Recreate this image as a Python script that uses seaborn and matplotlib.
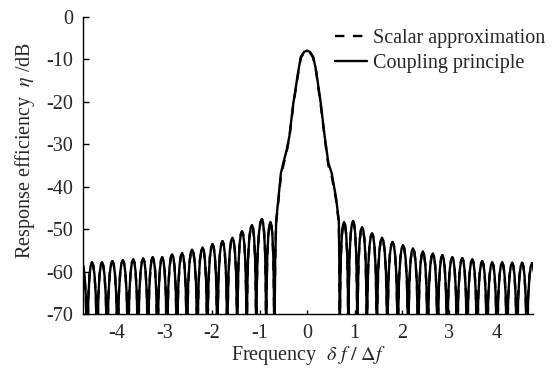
"""Resposta em frequencia: aproximacao escalar vs principio de acoplamento."""

import matplotlib
import numpy as np
import pandas as pd

matplotlib.use("Agg")
import matplotlib.pyplot as plt  # noqa: E402
import seaborn as sns  # noqa: E402

# --- valores (dB) ---
# lobulos laterais a esquerda: nulos (limites) e picos, em ordem crescente de x
LEFT_NULL_X = [-4.84, -4.63, -4.42, -4.21, -3.99, -3.77, -3.56, -3.35, -3.15, -2.95, -2.74,
               -2.53, -2.31, -2.10, -1.89, -1.68, -1.47, -1.27, -1.07, -0.86, -0.69]
LEFT_PEAK_X = [-4.74, -4.53, -4.32, -4.10, -3.88, -3.66, -3.45, -3.25, -3.05, -2.84,
               -2.63, -2.42, -2.20, -1.99, -1.78, -1.57, -1.37, -1.16, -0.95, -0.77]
LEFT_PEAK_DB = [-58.0, -57.8, -57.8, -57.5, -57.3, -57.1, -56.9, -56.6, -56.6, -55.9,
                -55.6, -54.8, -54.3, -53.5, -52.8, -52.0, -50.5, -49.0, -47.6, -48.3]

# lobulos laterais a direita
RIGHT_NULL_X = [0.69, 0.87, 1.06, 1.26, 1.47, 1.69, 1.91, 2.13, 2.34, 2.54, 2.75,
                2.95, 3.16, 3.37, 3.58, 3.79, 4.00, 4.21, 4.42, 4.63, 4.84]
RIGHT_PEAK_X = [0.78, 0.97, 1.16, 1.37, 1.58, 1.80, 2.02, 2.23, 2.44, 2.65,
                2.85, 3.06, 3.27, 3.48, 3.69, 3.90, 4.11, 4.32, 4.53, 4.74]
RIGHT_PEAK_DB = [-48.3, -48.1, -49.5, -51.0, -52.0, -53.0, -53.8, -54.5, -55.2, -55.7,
                 -56.1, -56.6, -56.8, -57.1, -57.5, -57.8, -57.8, -57.9, -57.9, -58.0]

# lobulo principal
MAIN_X = [-0.67, -0.65, -0.60, -0.55, -0.50, -0.43, -0.37, -0.29, -0.18, -0.13, -0.06,
          0.00, 0.06, 0.13, 0.19, 0.29, 0.37, 0.45, 0.52, 0.61, 0.67, 0.68]
COUPLING_MAIN_DB = [-57.0, -48.0, -42.5, -36.8, -34.4, -31.4, -28.0, -20.4, -12.5, -9.4, -8.2,
                    -7.9, -8.2, -9.4, -12.5, -20.4, -28.0, -34.4, -36.8, -42.5, -48.0, -57.0]
SCALAR_MAIN_DB = [-57.0, -48.5, -43.0, -37.5, -35.0, -31.8, -28.3, -20.8, -12.8, -9.6, -8.3,
                  -8.0, -8.3, -9.6, -12.8, -20.8, -28.3, -35.0, -37.5, -43.0, -48.5, -57.0]

# perfil tipico de um lobulo lateral (fracao nulo->pico, queda em dB abaixo do pico)
LOBE_FRAC = [0.0, 0.1, 0.25, 0.5, 0.75, 1.0]
LOBE_DROP_DB = [-30.0, -16.0, -8.0, -3.0, -0.7, 0.0]

X_TICKS = [-4, -3, -2, -1, 0, 1, 2, 3, 4]
Y_TICKS = [0, -10, -20, -30, -40, -50, -60, -70]
LEGEND_LABELS = ["Scalar approximation", "Coupling principle"]

FS = 14.5


def sidelobes(null_x, peak_x, peak_db):
    """Monta a curva dos lobulos laterais a partir dos nulos, picos e do perfil."""
    xs, ys = [], []
    for i, (px, pdb) in enumerate(zip(peak_x, peak_db)):
        a, b = null_x[i], null_x[i + 1]
        for f, d in zip(LOBE_FRAC, LOBE_DROP_DB):
            xs.append(a + f * (px - a))
            ys.append(pdb + d)
        for f, d in reversed(list(zip(LOBE_FRAC[:-1], LOBE_DROP_DB[:-1]))):
            xs.append(b - f * (b - px))
            ys.append(pdb + d)
    return xs, ys


def build_curve(main_db):
    lx, ly = sidelobes(LEFT_NULL_X, LEFT_PEAK_X, LEFT_PEAK_DB)
    rx, ry = sidelobes(RIGHT_NULL_X, RIGHT_PEAK_X, RIGHT_PEAK_DB)
    return pd.DataFrame({"freq": lx + MAIN_X + rx, "db": ly + list(main_db) + ry})


sns.set_style("ticks")
plt.rcParams["font.family"] = ["Liberation Serif", "DejaVu Serif"]
plt.rcParams["mathtext.fontset"] = "stix"
plt.rcParams["axes.unicode_minus"] = False

fig = plt.figure(figsize=(5.54, 3.70), dpi=100)
ax = fig.add_axes([0.150, 0.151, 0.812, 0.803])

scalar = build_curve(SCALAR_MAIN_DB)
coupling = build_curve(COUPLING_MAIN_DB)

sns.lineplot(data=scalar, x="freq", y="db", sort=False, estimator=None, ax=ax,
             color="black", lw=1.7, linestyle=(0, (4.0, 3.6)), label=LEGEND_LABELS[0])
sns.lineplot(data=coupling, x="freq", y="db", sort=False, estimator=None, ax=ax,
             color="black", lw=1.7, label=LEGEND_LABELS[1])

ax.set_xlim(-4.716, 4.758)
ax.set_ylim(-70, 0)
ax.set_xticks(X_TICKS)
ax.set_yticks(Y_TICKS)
ax.tick_params(axis="both", direction="in", labelsize=FS, color="black", width=1.0)
ax.tick_params(axis="x", length=3, pad=7)
ax.tick_params(axis="y", length=4, pad=7)
for side in ("top", "right"):
    ax.spines[side].set_visible(False)
for side in ("left", "bottom"):
    ax.spines[side].set_linewidth(1.0)
    ax.spines[side].set_color("black")

ax.set_xlabel(r"Frequency  $\delta\ f\ /\ \Delta f$", fontsize=FS, labelpad=1)
ax.set_ylabel(r"Response efficiency  $\eta$ /dB", fontsize=FS)
ax.yaxis.set_label_coords(-0.102, 0.55)

ax.legend(loc="upper left", bbox_to_anchor=(0.605, 0.922), bbox_transform=fig.transFigure,
          frameon=False, fontsize=FS, handlelength=1.6, handletextpad=0.3,
          labelspacing=0.28, borderpad=0, borderaxespad=0)

fig.savefig("out.png", dpi=100)
plt.close(fig)
